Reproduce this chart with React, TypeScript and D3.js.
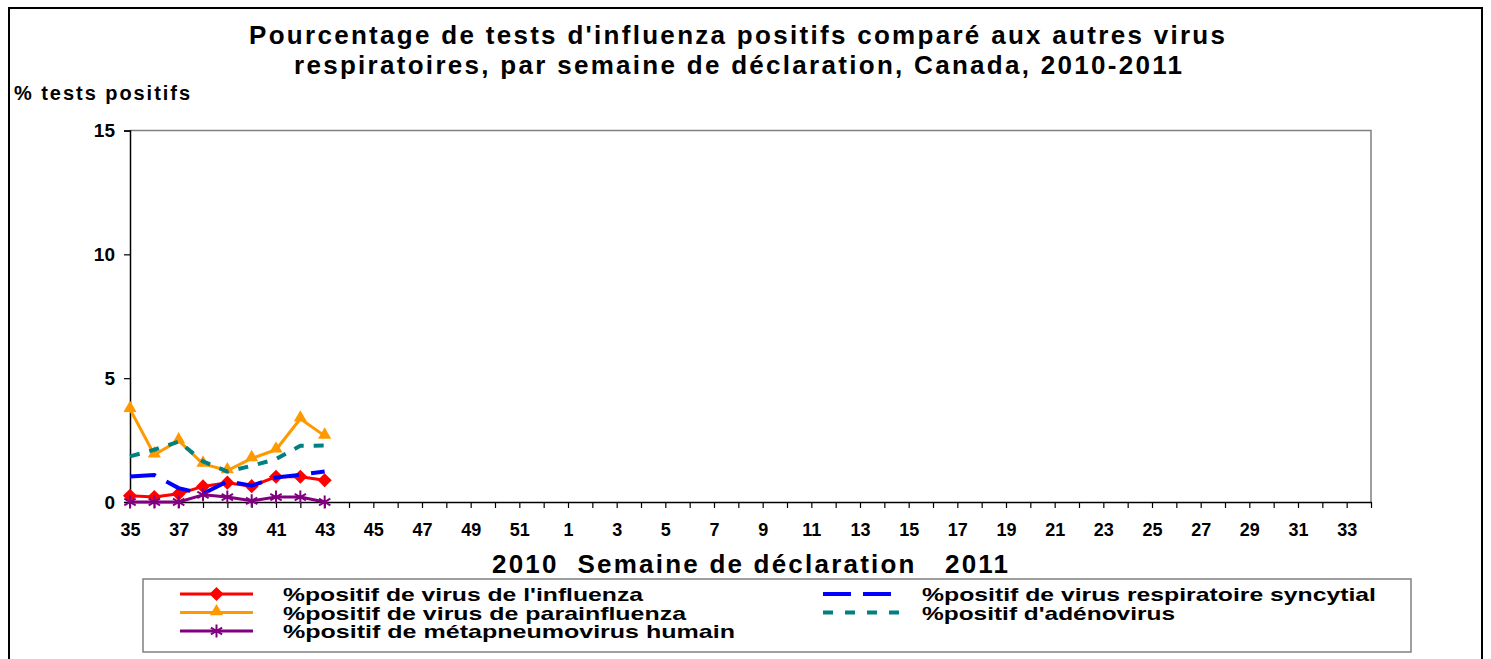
import React, { useRef, useEffect } from "react";
import * as d3 from "d3";

// Semaines de déclaration, 2010 (35-52) puis 2011 (1-34)
const weeks = [
  35, 36, 37, 38, 39, 40, 41, 42, 43, 44, 45, 46, 47, 48, 49, 50, 51, 52,
  1, 2, 3, 4, 5, 6, 7, 8, 9, 10, 11, 12, 13, 14, 15, 16, 17, 18, 19, 20,
  21, 22, 23, 24, 25, 26, 27, 28, 29, 30, 31, 32, 33, 34,
];
const weekLabels = [
  35, 37, 39, 41, 43, 45, 47, 49, 51, 1, 3, 5, 7, 9, 11, 13, 15, 17, 19, 21,
  23, 25, 27, 29, 31, 33,
];
const yTicks = [0, 5, 10, 15];

// % positif, semaines 35 à 43 (seules semaines déclarées)
const influenza = [0.25, 0.2, 0.33, 0.63, 0.78, 0.64, 1.02, 1.02, 0.88];
const rsv = [1.03, 1.09, 0.56, 0.33, 0.83, 0.66, 0.99, 1.1, 1.23];
const parainfluenza = [3.75, 1.91, 2.48, 1.54, 1.27, 1.76, 2.11, 3.36, 2.67];
const adenovirus = [1.84, 2.11, 2.44, 1.64, 1.23, 1.46, 1.73, 2.27, 2.28];
const hmpv = [0, 0, 0, 0.29, 0.2, 0.05, 0.2, 0.2, 0];

const series = [
  { name: "%positif de virus de l'influenza", values: influenza, color: "#ff0000", width: 3, dash: null, legendDash: null, marker: "diamond", col: 0, row: 0, len: 360 },
  { name: "%positif de virus respiratoire syncytial", values: rsv, color: "#0000ff", width: 4, dash: "26,12", legendDash: "28,12", marker: null, col: 1, row: 0, len: 454 },
  { name: "%positif de virus de parainfluenza", values: parainfluenza, color: "#ff9900", width: 3, dash: null, legendDash: null, marker: "triangle", col: 0, row: 1, len: 403 },
  { name: "%positif d'adénovirus", values: adenovirus, color: "#008080", width: 4, dash: "10,10", legendDash: "10,12", marker: null, col: 1, row: 1, len: 253 },
  { name: "%positif de métapneumovirus humain", values: hmpv, color: "#800080", width: 3, dash: null, legendDash: null, marker: "asterisk", col: 0, row: 2, len: 452 },
];

const FONT = "'Liberation Sans', Arial, sans-serif";

const drawMarker = (g, type, color, x, y) => {
  if (type === "diamond") {
    g.append("rect")
      .attr("x", -5)
      .attr("y", -5)
      .attr("width", 10)
      .attr("height", 10)
      .attr("fill", color)
      .attr("transform", `translate(${x},${y}) rotate(45)`);
  } else if (type === "triangle") {
    g.append("path")
      .attr("d", d3.symbol(d3.symbolTriangle, 75)())
      .attr("fill", color)
      .attr("transform", `translate(${x},${y - 1})`);
  } else if (type === "asterisk") {
    g.append("path")
      .attr("d", d3.symbol(d3.symbolAsterisk, 120)())
      .attr("fill", "none")
      .attr("stroke", color)
      .attr("stroke-width", 2)
      .attr("transform", `translate(${x},${y})`);
  }
};

const Chart = ({ width = 1491, height = 659 }) => {
  const ref = useRef(null);

  useEffect(() => {
    const svg = d3.select(ref.current);
    svg.selectChildren().remove();

    const left = 130,
      right = 1371,
      top = 130.5,
      bottom = 502;

    const x = d3.scalePoint().domain(weeks).range([left, right]);
    const y = d3.scaleLinear().domain([0, 15]).range([bottom, top]);

    // Cadre extérieur
    svg.append("rect")
      .attr("x", 9)
      .attr("y", 8)
      .attr("width", 1473)
      .attr("height", 700)
      .attr("fill", "white")
      .attr("stroke", "black")
      .attr("stroke-width", 2);

    // Titre
    const title = svg.append("g")
      .style("font-family", FONT)
      .style("font-weight", "bold")
      .style("font-size", "26px")
      .attr("text-anchor", "middle");
    title.append("text")
      .attr("x", 737)
      .attr("y", 44)
      .attr("textLength", 976)
      .attr("lengthAdjust", "spacing")
      .text("Pourcentage de tests d'influenza positifs comparé aux autres virus");
    title.append("text")
      .attr("x", 738)
      .attr("y", 74)
      .attr("textLength", 888)
      .attr("lengthAdjust", "spacing")
      .text("respiratoires, par semaine de déclaration, Canada, 2010-2011");

    svg.append("text")
      .attr("x", 14)
      .attr("y", 100)
      .style("font-family", FONT)
      .style("font-weight", "bold")
      .style("font-size", "20px")
      .attr("textLength", 176)
      .attr("lengthAdjust", "spacing")
      .text("% tests positifs");

    // Zone de traçage
    svg.append("path")
      .attr("d", `M${left},${top}H${right}V${bottom}`)
      .attr("fill", "none")
      .attr("stroke", "#808080")
      .attr("stroke-width", 1.5);

    // Axe Y
    const yAxis = svg.append("g")
      .attr("transform", `translate(${left},0)`)
      .call(d3.axisLeft(y).tickValues(yTicks).tickSize(6).tickPadding(9));
    yAxis.select(".domain").attr("stroke", "black").attr("stroke-width", 1.5);
    yAxis.selectAll(".tick line").attr("stroke", "black").attr("stroke-width", 1.2);
    yAxis.selectAll("text")
      .style("font-family", FONT)
      .style("font-weight", "bold")
      .style("font-size", "19px")
      .attr("fill", "black");

    // Axe X
    const xAxis = svg.append("g")
      .attr("transform", `translate(0,${bottom})`)
      .call(
        d3.axisBottom(x)
          .tickSize(6)
          .tickSizeOuter(0)
          .tickPadding(15)
          .tickFormat((d) => (weekLabels.includes(d) ? String(d) : ""))
      );
    xAxis.select(".domain").attr("stroke", "black").attr("stroke-width", 1.5);
    xAxis.selectAll(".tick line").attr("stroke", "black").attr("stroke-width", 1.2);
    xAxis.selectAll("text")
      .style("font-family", FONT)
      .style("font-weight", "bold")
      .style("font-size", "18px")
      .attr("fill", "black");

    svg.append("text")
      .attr("x", 492)
      .attr("y", 573)
      .attr("xml:space", "preserve")
      .style("white-space", "pre")
      .style("font-family", FONT)
      .style("font-weight", "bold")
      .style("font-size", "26px")
      .attr("textLength", 516)
      .attr("lengthAdjust", "spacing")
      .text("2010  Semaine de déclaration   2011");

    // Séries
    const plot = svg.append("g");
    series.forEach((s) => {
      const pts = s.values.map((v, i) => [x(weeks[i]), y(v)]);
      const path = plot.append("path")
        .attr("d", d3.line()(pts))
        .attr("fill", "none")
        .attr("stroke", s.color)
        .attr("stroke-width", s.width)
        .attr("stroke-linejoin", "round");
      if (s.dash) path.attr("stroke-dasharray", s.dash);
      if (s.marker) pts.forEach(([px, py]) => drawMarker(plot, s.marker, s.color, px, py));
    });

    // Légende
    const lg = svg.append("g");
    lg.append("rect")
      .attr("x", 143)
      .attr("y", 579)
      .attr("width", 1268)
      .attr("height", 73)
      .attr("fill", "white")
      .attr("stroke", "#808080")
      .attr("stroke-width", 1.5);
    const colX = [
      { x0: 180, x1: 253, tx: 283 },
      { x0: 823, x1: 900, tx: 922 },
    ];
    const rowY = [594, 612.5, 631];
    series.forEach((s) => {
      const c = colX[s.col];
      const yy = rowY[s.row];
      const l = lg.append("line")
        .attr("x1", c.x0)
        .attr("x2", c.x1)
        .attr("y1", yy)
        .attr("y2", yy)
        .attr("stroke", s.color)
        .attr("stroke-width", s.width);
      if (s.legendDash) l.attr("stroke-dasharray", s.legendDash);
      if (s.marker) drawMarker(lg, s.marker, s.color, (c.x0 + c.x1) / 2, yy);
      lg.append("text")
        .attr("x", c.tx)
        .attr("y", yy + 7)
        .style("font-family", FONT)
        .style("font-weight", "bold")
        .style("font-size", "19px")
        .attr("textLength", s.len)
        .attr("lengthAdjust", "spacingAndGlyphs")
        .text(s.name);
    });
  }, [width, height]);

  return (
    <svg
      ref={ref}
      width={width}
      height={height}
      style={{ position: "absolute", left: 0, top: 0, background: "white" }}
    />
  );
};

export default function App() {
  return <Chart width={1491} height={659} />;
}
